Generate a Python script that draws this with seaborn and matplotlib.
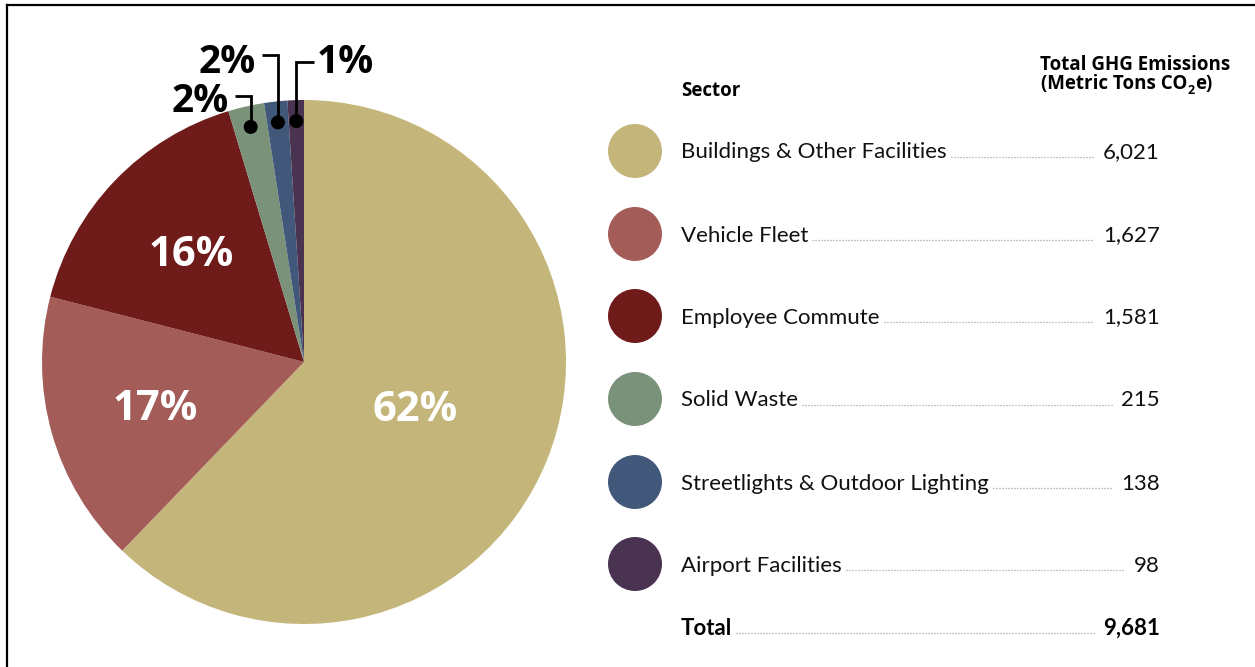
import matplotlib
matplotlib.use("Agg")
import matplotlib.pyplot as plt
import seaborn as sns
import numpy as np
from matplotlib.patches import Circle

# ---------------- data ----------------
sectors = ["Buildings & Other Facilities", "Vehicle Fleet", "Employee Commute",
           "Solid Waste", "Streetlights & Outdoor Lighting", "Airport Facilities"]
emissions = [6021, 1627, 1581, 215, 138, 98]
pct_labels = ["62%", "17%", "16%", "2%", "2%", "1%"]
value_labels = ["6,021", "1,627", "1,581", "215", "138", "98"]
total_label = "9,681"
colors = ["#C4B67A", "#A35C58", "#6E1B1A", "#7A917A", "#41587A", "#4A3350"]

W, H = 1255, 667
sns.set_theme(style="white")
plt.rcParams['font.family'] = ['Open Sans', 'DejaVu Sans']
ROW_FONT = ['Lato', 'DejaVu Sans']

fig = plt.figure(figsize=(W / 100, H / 100), dpi=100)
ax = fig.add_axes([0, 0, 1, 1])


def Y(y):
    return H - y


cx, cy, R = 304, Y(362), 262
wedges, _ = ax.pie(emissions, colors=colors, startangle=90, counterclock=False,
                   center=(cx, cy), radius=R, wedgeprops=dict(linewidth=0))
ax.set_xlim(0, W)
ax.set_ylim(0, H)
ax.set_aspect('equal')
ax.axis('off')


def mid_point(w, r):
    a = np.deg2rad((w.theta1 + w.theta2) / 2)
    return cx + r * R * np.cos(a), cy + r * R * np.sin(a)


# big inside labels
inner_dist = [0.45, 0.60, 0.61]
for i, d in enumerate(inner_dist):
    x, y = mid_point(wedges[i], d)
    ax.text(x + 2, y - 15, pct_labels[i], ha='center', va='baseline', color='white',
            fontsize=30, fontweight='bold')

# small outside labels with leader lines
elbow_y = [96, 55, 62]
elbow_dx = [-16, -16, 18]
text_base = [112, 73, 73]
for k, i in enumerate([3, 4, 5]):
    x, y = mid_point(wedges[i], 0.92)
    ey = Y(elbow_y[k])
    ex = x + elbow_dx[k]
    ax.plot([x, x, ex], [y, ey, ey], color='black', lw=2, solid_capstyle='butt',
            solid_joinstyle='miter')
    ax.add_patch(Circle((x, y), 6.3, color='black', zorder=5))
    if elbow_dx[k] < 0:
        ax.text(ex - 6, Y(text_base[k]), pct_labels[i], ha='right', va='baseline',
                fontsize=28, fontweight='bold', color='black')
    else:
        ax.text(ex + 2, Y(text_base[k]), pct_labels[i], ha='left', va='baseline',
                fontsize=28, fontweight='bold', color='black')

# legend / table
row_y = [151, 234, 316, 399, 482, 564]
label_x, value_x, circ_x = 681, 1160, 635
fs = 16
row_texts = []
for i, ry in enumerate(row_y):
    ax.add_patch(Circle((circ_x, Y(ry)), 27, color=colors[i], lw=0))
    t1 = ax.text(label_x, Y(ry + 7.5), sectors[i], ha='left', va='baseline',
                 fontsize=fs, color='#111111', family=ROW_FONT)
    t2 = ax.text(value_x, Y(ry + 7.5), value_labels[i], ha='right', va='baseline',
                 fontsize=fs, color='#111111', family=ROW_FONT)
    row_texts.append((t1, t2, Y(ry + 7.5)))

tt1 = ax.text(label_x, Y(635), "Total", ha='left', va='baseline', fontsize=fs,
              fontweight='bold', color='black', family=ROW_FONT)
tt2 = ax.text(value_x, Y(635), total_label, ha='right', va='baseline', fontsize=fs,
              fontweight='bold', color='black', family=ROW_FONT)
row_texts.append((tt1, tt2, Y(635)))

hfs = 13.5
ax.text(label_x, Y(96.5), "Sector", ha='left', va='baseline', fontsize=hfs,
        fontweight='bold', color='black')
ax.text(1040, Y(70.5), "Total GHG Emissions", ha='left', va='baseline', fontsize=hfs,
        fontweight='bold', color='black')

fig.canvas.draw()
renderer = fig.canvas.get_renderer()

h1 = ax.text(1041, Y(89.5), "(Metric Tons CO", ha='left', va='baseline', fontsize=hfs,
             fontweight='bold', color='black')
fig.canvas.draw()
bb = h1.get_window_extent(renderer)
h2 = ax.text(bb.x1 + 0.5, Y(94.5), "2", ha='left', va='baseline', fontsize=9,
             fontweight='bold', color='black')
fig.canvas.draw()
bb2 = h2.get_window_extent(renderer)
ax.text(bb2.x1 + 0.5, Y(89.5), "e)", ha='left', va='baseline', fontsize=hfs,
        fontweight='bold', color='black')

# dotted leaders
for t1, t2, by in row_texts:
    b1 = t1.get_window_extent(renderer)
    b2 = t2.get_window_extent(renderer)
    ax.plot([b1.x1 + 4, b2.x0 - 9], [by + 2, by + 2], color='#888888', lw=0.9,
            linestyle=(0, (0.8, 1.6)))

# frame lines (left and top)
ax.plot([6.5, 6.5], [0, Y(4.5)], color='black', lw=1.6, solid_capstyle='projecting')
ax.plot([6.5, W], [Y(4.5), Y(4.5)], color='black', lw=1.6, solid_capstyle='projecting')

fig.savefig("out.png", dpi=100)
